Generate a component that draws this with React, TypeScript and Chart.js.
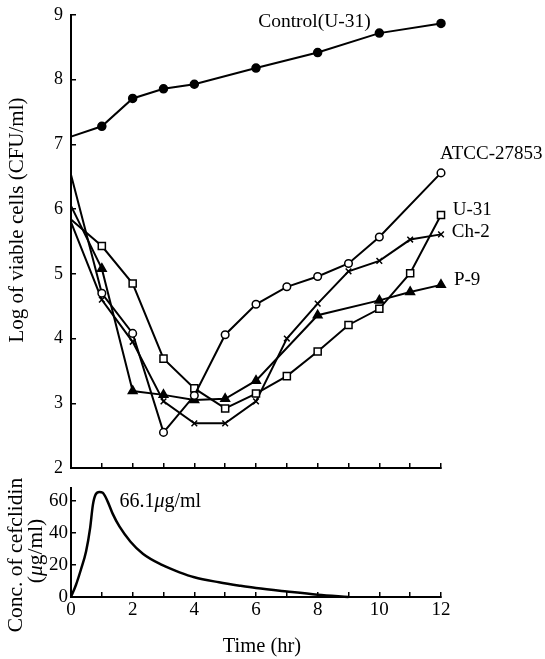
import React, { useEffect, useRef } from 'react';
import { Chart, registerables } from 'chart.js';

Chart.register(...registerables);

const FONT = '"Liberation Serif", "Times New Roman", serif';

// ---- data ----
const hours = [0, 1, 2, 3, 4, 5, 6, 7, 8, 9, 10, 11, 12];

const controlHours = [0, 1, 2, 3, 4, 6, 8, 10, 12];
const controlLog = [7.12, 7.28, 7.71, 7.86, 7.93, 8.18, 8.42, 8.72, 8.87];

const atccHours = [0, 1, 2, 3, 4, 5, 6, 7, 8, 9, 10, 12];
const atccLog = [6.53, 4.7, 4.08, 2.55, 3.12, 4.06, 4.53, 4.8, 4.96, 5.16, 5.57, 6.56];

const u31Log = [5.84, 5.43, 4.85, 3.69, 3.23, 2.92, 3.15, 3.42, 3.8, 4.21, 4.46, 5.01, 5.91];

const ch2Log = [5.8, 4.6, 3.95, 3.03, 2.69, 2.69, 3.03, 4.0, 4.54, 5.04, 5.2, 5.53, 5.61];

const p9Hours = [0, 1, 2, 3, 4, 5, 6, 8, 10, 11, 12];
const p9Log = [6.05, 5.08, 3.19, 3.13, 3.05, 3.07, 3.35, 4.36, 4.59, 4.72, 4.83];

const concTime = [0, 0.16, 0.32, 0.49, 0.62, 0.71, 0.8, 0.92, 1.03, 1.19, 1.35, 1.57, 1.93, 2.33, 2.95, 3.52, 4.0, 4.8, 5.5, 6.0, 7.0, 8.0, 9.0];
const concValue = [0, 7.5, 17, 28.5, 43, 57.5, 64, 65.5, 65, 59.5, 52, 44, 34.5, 27, 20, 15.4, 12.3, 9.2, 7.0, 5.6, 3.4, 1.4, 0];

const logTicks = [2, 3, 4, 5, 6, 7, 8, 9];
const concTicks = [0, 20, 40, 60];
const timeTickLabels = [0, 2, 4, 6, 8, 10, 12];

type Part = { t: string; italic?: boolean };
type Label = { parts: Part[]; x: number; y: number; size: number };
type Title = { parts: Part[]; cx: number; cy: number; rot: number; size: number };

const topLabels: Label[] = [
  { parts: [{ t: 'Control(U-31)' }], x: 6.07, y: 8.9, size: 19.5 },
  { parts: [{ t: 'ATCC-27853' }], x: 11.97, y: 6.85, size: 19 },
  { parts: [{ t: 'U-31' }], x: 12.38, y: 5.99, size: 19 },
  { parts: [{ t: 'Ch-2' }], x: 12.35, y: 5.64, size: 19 },
  { parts: [{ t: 'P-9' }], x: 12.42, y: 4.9, size: 19 },
];
const bottomLabels: Label[] = [
  { parts: [{ t: '66.1' }, { t: 'μ', italic: true }, { t: 'g/ml' }], x: 1.57, y: 59.6, size: 20 },
];

const topTitles: Title[] = [
  { parts: [{ t: 'Log of viable cells (CFU/ml)' }], cx: 17, cy: 220, rot: -Math.PI / 2, size: 21 },
];
const bottomTitles: Title[] = [
  { parts: [{ t: 'Conc. of cefclidin' }], cx: 16, cy: 115, rot: -Math.PI / 2, size: 21.5 },
  { parts: [{ t: '(' }, { t: 'μ', italic: true }, { t: 'g/ml)' }], cx: 36, cy: 111, rot: -Math.PI / 2, size: 21.5 },
  { parts: [{ t: 'Time (hr)' }], cx: 262, cy: 207, rot: 0, size: 20.5 },
];

function fontFor(p: Part, size: number) {
  return `${p.italic ? 'italic ' : ''}${size}px ${FONT}`;
}

function drawParts(ctx: CanvasRenderingContext2D, parts: Part[], x: number, y: number, size: number, align: 'left' | 'center') {
  let total = 0;
  const widths = parts.map((p) => {
    ctx.font = fontFor(p, size);
    const w = ctx.measureText(p.t).width;
    total += w;
    return w;
  });
  let cx = align === 'center' ? x - total / 2 : x;
  ctx.textAlign = 'left';
  ctx.textBaseline = 'middle';
  parts.forEach((p, i) => {
    ctx.font = fontFor(p, size);
    ctx.fillText(p.t, cx, y);
    cx += widths[i];
  });
}

function makeTextPlugin(labels: Label[], titles: Title[]) {
  return {
    id: 'texts',
    afterDraw(chart: any) {
      const ctx = chart.ctx as CanvasRenderingContext2D;
      ctx.save();
      ctx.fillStyle = '#000';
      labels.forEach((l) => {
        const px = chart.scales.x.getPixelForValue(l.x);
        const py = chart.scales.y.getPixelForValue(l.y);
        drawParts(ctx, l.parts, px, py, l.size, 'left');
      });
      titles.forEach((t) => {
        ctx.save();
        ctx.translate(t.cx, t.cy);
        ctx.rotate(t.rot);
        drawParts(ctx, t.parts, 0, 0, t.size, 'center');
        ctx.restore();
      });
      ctx.restore();
    },
  };
}

const pts = (xs: number[], ys: number[]) => xs.map((x, i) => ({ x, y: ys[i] }));

function series(data: { x: number; y: number }[], style: string, radius: number, fill: string) {
  return {
    data,
    borderColor: '#000',
    borderWidth: 2,
    tension: 0,
    clip: false,
    pointStyle: style,
    pointRadius: (c: any) => (c.raw && c.raw.x === 0 ? 0 : radius),
    pointBackgroundColor: fill,
    pointBorderColor: '#000',
    pointBorderWidth: 1.5,
  };
}

const axisCommon = {
  grid: { drawOnChartArea: false, color: '#000', lineWidth: 1.5, tickLength: -5 },
  border: { color: '#000', width: 2 },
};

export default function App() {
  const topRef = useRef<HTMLCanvasElement>(null);
  const botRef = useRef<HTMLCanvasElement>(null);

  useEffect(() => {
    const top = new Chart(topRef.current!, {
      type: 'line',
      data: {
        datasets: [
          series(pts(controlHours, controlLog), 'circle', 4, '#000'),
          series(pts(atccHours, atccLog), 'circle', 3.8, '#fff'),
          series(pts(hours, u31Log), 'rect', 5, '#fff'),
          series(pts(hours, ch2Log), 'crossRot', 4, '#fff'),
          series(pts(p9Hours, p9Log), 'triangle', 5, '#000'),
        ] as any,
      },
      options: {
        animation: false,
        responsive: false,
        layout: { padding: { top: 15, right: 104, left: 0, bottom: 0 } },
        plugins: { legend: { display: false }, tooltip: { enabled: false } },
        scales: {
          x: {
            type: 'linear',
            min: 0,
            max: 12,
            ticks: { stepSize: 1, display: false, autoSkip: false },
            ...axisCommon,
            afterFit: (s: any) => { s.height = 12; s.paddingLeft = 0; s.paddingRight = 0; },
          },
          y: {
            type: 'linear',
            min: 2,
            max: 9,
            afterBuildTicks: (s: any) => { s.ticks = logTicks.map((v) => ({ value: v })); },
            ticks: { color: '#000', font: { family: FONT, size: 18 }, padding: 13 },
            ...axisCommon,
            afterFit: (s: any) => { s.width = 71; s.paddingTop = 0; s.paddingBottom = 0; },
          },
        },
      } as any,
      plugins: [makeTextPlugin(topLabels, topTitles)],
    });

    const bot = new Chart(botRef.current!, {
      type: 'line',
      data: {
        datasets: [
          {
            data: pts(concTime, concValue),
            borderColor: '#000',
            borderWidth: 2.5,
            cubicInterpolationMode: 'monotone',
            pointRadius: 0,
            clip: false,
          },
        ] as any,
      },
      options: {
        animation: false,
        responsive: false,
        layout: { padding: { top: 48, right: 104, left: 0, bottom: 0 } },
        plugins: { legend: { display: false }, tooltip: { enabled: false } },
        scales: {
          x: {
            type: 'linear',
            min: 0,
            max: 12,
            afterBuildTicks: (s: any) => { s.ticks = hours.map((v) => ({ value: v })); },
            ticks: {
              autoSkip: false,
              maxRotation: 0,
              color: '#000',
              font: { family: FONT, size: 19 },
              padding: 7,
              callback: (v: any) => (timeTickLabels.includes(Number(v)) ? String(v) : ''),
            },
            ...axisCommon,
            afterFit: (s: any) => { s.height = 62; s.paddingLeft = 0; s.paddingRight = 0; },
          },
          y: {
            type: 'linear',
            min: 0,
            max: 68,
            afterBuildTicks: (s: any) => { s.ticks = concTicks.map((v) => ({ value: v })); },
            ticks: { color: '#000', font: { family: FONT, size: 19 }, padding: 8 },
            ...axisCommon,
            afterFit: (s: any) => { s.width = 71; s.paddingTop = 0; s.paddingBottom = 0; },
          },
        },
      } as any,
      plugins: [makeTextPlugin(bottomLabels, bottomTitles)],
    });

    return () => {
      top.destroy();
      bot.destroy();
    };
  }, []);

  return (
    <div style={{ position: 'absolute', left: 0, top: 0, width: 545, height: 659, background: '#fff' }}>
      <canvas ref={topRef} width={545} height={480} style={{ position: 'absolute', left: 0, top: 0 }} />
      <canvas ref={botRef} width={545} height={219} style={{ position: 'absolute', left: 0, top: 440 }} />
    </div>
  );
}
